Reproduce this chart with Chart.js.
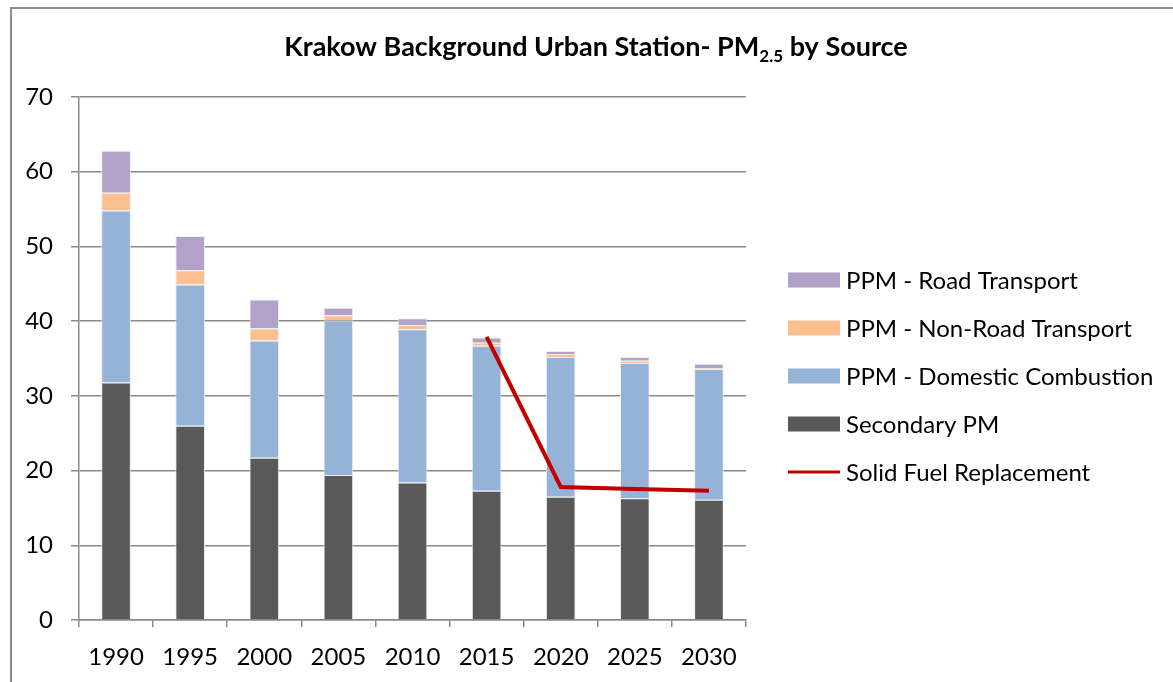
<!DOCTYPE html>
<html>
<head>
<meta charset="utf-8">
<script src="https://cdn.jsdelivr.net/npm/chart.js@4"></script>
<style>
  body { margin: 0; background: #fff; }
  #wrap { position: relative; width: 1173px; height: 682px; overflow: hidden; }
  #frame { position: absolute; left: 10px; top: 7px; width: 1300px; height: 800px;
           border-left: 2px solid #8c8c8c; border-top: 2px solid #8c8c8c; }
  #chart { position: absolute; left: 0; top: 0; }
</style>
</head>
<body>
<div id="wrap">
  <div id="frame"></div>
  <canvas id="chart" width="1173" height="682"></canvas>
</div>
<script>
const years = ['1990', '1995', '2000', '2005', '2010', '2015', '2020', '2025', '2030'];
const secondaryPM = [31.8, 26.0, 21.7, 19.4, 18.4, 17.3, 16.5, 16.3, 16.1];
const domesticComb = [23.0, 18.9, 15.7, 20.7, 20.5, 19.4, 18.7, 18.1, 17.5];
const nonRoadTransport = [2.4, 1.9, 1.6, 0.7, 0.6, 0.4, 0.4, 0.3, 0.1];
const roadTransport = [5.6, 4.6, 3.9, 1.0, 0.9, 0.7, 0.4, 0.5, 0.6];
const solidFuel = [null, null, null, null, null, 37.9, 17.8, 17.55, 17.3];
const yTicks = [0, 10, 20, 30, 40, 50, 60, 70];

const FONT = 'Lato';
const gridGray = '#8a8a8a';
// legend order as in the picture: road, non-road, domestic, secondary, line
const legendOrder = [3, 2, 1, 0, 4];

function bar(label, data, color) {
    return {
        type: 'bar',
        label: label,
        data: data,
        backgroundColor: color,
        borderColor: 'rgba(235,235,245,0.9)',
        borderWidth: 1,
        barPercentage: 0.4,
        categoryPercentage: 1,
        stack: 'pm'
    };
}

// title with PM2.5 subscript
const titlePlugin = {
    id: 'subTitle',
    afterDraw(chart) {
        const ctx = chart.ctx;
        const parts = [
            { t: 'Krakow Background Urban Station- PM', size: 27, dy: 0 },
            { t: '2.5', size: 17, dy: 6 },
            { t: ' by Source', size: 27, dy: 0 }
        ];
        ctx.save();
        let total = 0;
        parts.forEach(p => {
            ctx.font = `bold ${p.size}px ${FONT}`;
            p.w = ctx.measureText(p.t).width;
            total += p.w;
        });
        let x = 596 - total / 2;
        ctx.fillStyle = '#000';
        ctx.textBaseline = 'alphabetic';
        parts.forEach(p => {
            ctx.font = `bold ${p.size}px ${FONT}`;
            ctx.fillText(p.t, x, 56 + p.dy);
            x += p.w;
        });
        ctx.restore();
    }
};

// legend on the right, Excel style (wide swatches, line sample for the line series)
const legendPlugin = {
    id: 'sideLegend',
    afterDraw(chart) {
        const ctx = chart.ctx;
        const items = Chart.defaults.plugins.legend.labels.generateLabels(chart);
        ctx.save();
        ctx.font = `24px ${FONT}`;
        ctx.textBaseline = 'middle';
        legendOrder.forEach((idx, i) => {
            const it = items.find(o => o.datasetIndex === idx);
            const y = 280 + i * 48;
            if (idx === 4) {
                ctx.strokeStyle = it.strokeStyle;
                ctx.lineWidth = 3;
                ctx.beginPath();
                ctx.moveTo(788, y);
                ctx.lineTo(840, y);
                ctx.stroke();
            } else {
                ctx.fillStyle = it.fillStyle;
                ctx.fillRect(788, y - 7.5, 52, 15);
            }
            ctx.fillStyle = '#000';
            ctx.fillText(it.text, 846, y + 1);
        });
        ctx.restore();
    }
};

const ctx = document.getElementById('chart');

const myChart = new Chart(ctx, {
    data: {
        labels: years,
        datasets: [
            bar('Secondary PM', secondaryPM, '#595959'),
            bar('PPM - Domestic Combustion', domesticComb, '#95B3D7'),
            bar('PPM - Non-Road Transport', nonRoadTransport, '#FAC090'),
            bar('PPM - Road Transport', roadTransport, '#B3A2C7'),
            {
                type: 'line',
                label: 'Solid Fuel Replacement',
                data: solidFuel,
                borderColor: '#C00000',
                backgroundColor: '#C00000',
                borderWidth: 4,
                pointRadius: 0,
                tension: 0,
                stack: 'line',
                order: -1
            }
        ]
    },
    options: {
        responsive: false,
        animation: false,
        layout: { padding: { top: 97, left: 0, right: 427, bottom: 0 } },
        plugins: {
            title: { display: false },
            tooltip: { enabled: false },
            legend: { display: false }
        },
        scales: {
            x: {
                stacked: true,
                afterFit: (s) => { s.height = 62; },
                grid: { offset: true, drawOnChartArea: false, drawTicks: true, tickLength: 7, color: gridGray, lineWidth: 1.5 },
                border: { display: true, color: gridGray, width: 1.5 },
                ticks: { color: '#000', padding: 16, font: { family: FONT, size: 24 } }
            },
            y: {
                stacked: true,
                min: 0,
                max: 70,
                afterFit: (s) => { s.width = 79; },
                afterBuildTicks: (s) => { s.ticks = yTicks.map(v => ({ value: v })); },
                grid: { color: gridGray, lineWidth: 1.5, tickLength: 8, drawTicks: true },
                border: { display: true, color: gridGray, width: 1.5 },
                ticks: { color: '#000', padding: 18, font: { family: FONT, size: 24 } }
            }
        }
    },
    plugins: [titlePlugin, legendPlugin]
});
</script>
</body>
</html>
